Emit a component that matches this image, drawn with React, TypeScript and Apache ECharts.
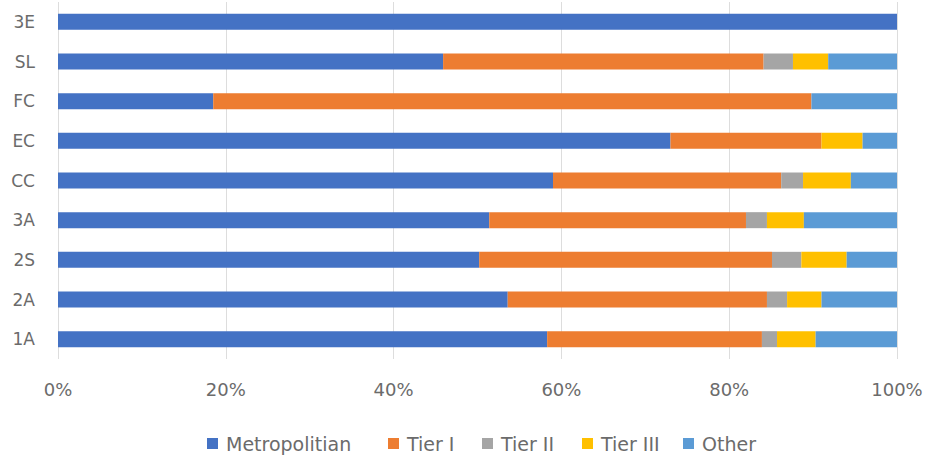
import React, { useEffect, useRef } from "react";
import * as echarts from "echarts";

const categories = ["1A", "2A", "2S", "3A", "CC", "EC", "FC", "SL", "3E"];
const metropolitian = [58.3, 53.6, 50.2, 51.4, 59.0, 73.0, 18.5, 45.9, 100];
const tierI = [25.6, 30.9, 34.9, 30.6, 27.2, 18.0, 71.3, 38.2, 0];
const tierII = [1.8, 2.4, 3.5, 2.5, 2.6, 0, 0, 3.5, 0];
const tierIII = [4.6, 4.1, 5.4, 4.4, 5.7, 4.9, 0, 4.2, 0];
const other = [9.7, 9.0, 6.0, 11.1, 5.5, 4.1, 10.2, 8.2, 0];
const seriesNames = ["Metropolitian", "Tier I", "Tier II", "Tier III", "Other"];
const colors = ["#4472C4", "#ED7D31", "#A5A5A5", "#FFC000", "#5B9BD5"];
const xTicks = [0, 20, 40, 60, 80, 100];
const legendLeft = [202, 383, 477, 577, 678];

export default function App() {
  const ref = useRef<HTMLDivElement>(null);
  useEffect(() => {
    document.body.style.margin = "0";
    if (!ref.current) return;
    const chart = echarts.init(ref.current, null, { renderer: "svg" });
    const data = [metropolitian, tierI, tierII, tierIII, other];
    const font = "DejaVu Sans, sans-serif";
    chart.setOption({
      animation: false,
      color: colors,
      textStyle: { fontFamily: font, color: "#6B6B6B" },
      grid: { left: 58, right: 31, top: 2, bottom: 100, containLabel: false },
      legend: seriesNames.map((name, i) => ({
        left: legendLeft[i],
        top: 429,
        itemWidth: 11,
        itemHeight: 11,
        icon: "rect",
        textStyle: { fontFamily: font, fontSize: 19, color: "#6B6B6B", padding: [0, 0, 0, 3] },
        data: [name],
      })),
      xAxis: {
        type: "value",
        min: xTicks[0],
        max: xTicks[xTicks.length - 1],
        interval: 20,
        axisLine: { show: false },
        axisTick: { show: false },
        splitLine: { show: true, lineStyle: { color: "#DDDDDD", width: 1 } },
        axisLabel: {
          formatter: (v: number) => v + "%",
          fontFamily: font,
          fontSize: 18,
          color: "#6B6B6B",
          margin: 21,
        },
      },
      yAxis: {
        type: "category",
        data: categories,
        axisLine: { show: false },
        axisTick: { show: false },
        axisLabel: { fontFamily: font, fontSize: 17, color: "#6B6B6B", margin: 23 },
      },
      series: seriesNames.map((name, i) => ({
        name,
        type: "bar",
        stack: "total",
        barWidth: 16,
        data: data[i],
        itemStyle: { color: colors[i] },
      })),
    });
    return () => chart.dispose();
  }, []);
  return <div ref={ref} style={{ width: 928, height: 459 }} />;
}
